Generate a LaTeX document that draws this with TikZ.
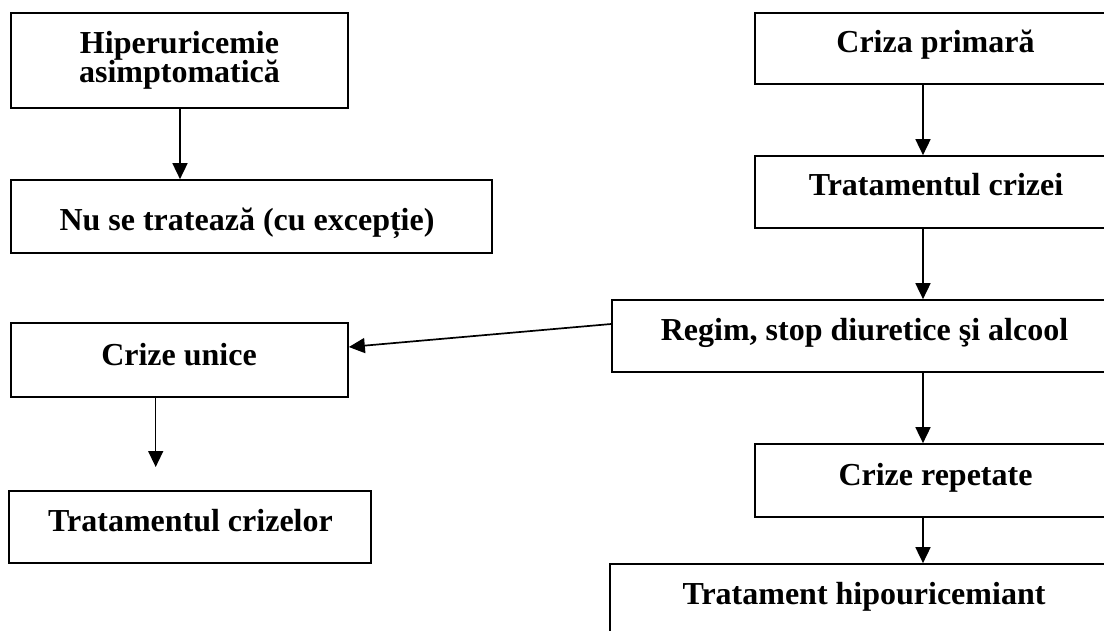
\documentclass[tikz,border=0pt]{standalone}
\usepackage{fontspec}
\setmainfont{Liberation Serif}
\usetikzlibrary{arrows.meta}
\tikzset{
  box/.style={draw=black, line width=1.7pt, fill=white, rectangle, inner sep=0pt},
  lbl/.style={anchor=base, inner sep=0pt, font=\fontsize{32}{29}\selectfont\bfseries, align=center},
  conn/.style={line width=1.7pt, -{Triangle[length=16pt,width=15pt]}},
  thinconn/.style={line width=1.4pt, -{Triangle[length=16pt,width=15pt]}}
}
\begin{document}
\begin{tikzpicture}[x=1pt,y=-1pt]
\useasboundingbox (0,0) rectangle (1104,630);
% left column
\node[box, minimum width=337pt, minimum height=95pt] (A) at (179.5,60.5) {};
\node[box, minimum width=481pt, minimum height=73pt] (B) at (251.5,216.5) {};
\node[box, minimum width=337pt, minimum height=74pt] (C) at (179.5,360) {};
\node[box, minimum width=362pt, minimum height=72pt] (D) at (190,527) {};
% right column
\node[box, minimum width=361pt, minimum height=71pt] (E) at (935.5,48.5) {};
\node[box, minimum width=361pt, minimum height=72pt] (F) at (935.5,192) {};
\node[box, minimum width=504pt, minimum height=72pt] (G) at (864,336) {};
\node[box, minimum width=361pt, minimum height=73pt] (H) at (935.5,480.5) {};
\node[box, minimum width=506pt, minimum height=80pt] (I) at (863,604) {};
% labels
\node[lbl] (tA1) at (179.5,53) {Hiperuricemie};
\node[lbl] (tA2) at (179.5,82) {asimptomatică};
\node[lbl] (tB) at (247,230) {Nu se tratează (cu excepție)};
\node[lbl] (tC) at (179,365) {Crize unice};
\node[lbl] (tD) at (190.5,531.5) {Tratamentul crizelor};
\node[lbl] (tE) at (935.5,52) {Criza primară};
\node[lbl] (tF) at (936,195) {Tratamentul crizei};
\node[lbl] (tG) at (864.5,340) {Regim, stop diuretice şi alcool};
\node[lbl] (tH) at (935.5,485) {Crize repetate};
\node[lbl] (tI) at (864,604) {Tratament hipouricemiant};
% connectors
\coordinate (cdEnd) at (155.7,467);
\draw[conn] (A.south -| 180,0) -- (B.north -| 180,0);
\draw[conn] (E.south -| 923,0) -- (F.north -| 923,0);
\draw[conn] (F.south -| 923,0) -- (G.north -| 923,0);
\draw[conn] (G.west |- 0,324) -- (C.east |- 0,347);
\draw[thinconn] (C.south -| 155.7,0) -- (cdEnd);
\draw[conn] (G.south -| 923,0) -- (H.north -| 923,0);
\draw[conn] (H.south -| 923,0) -- (I.north -| 923,0);
\end{tikzpicture}
\end{document}
